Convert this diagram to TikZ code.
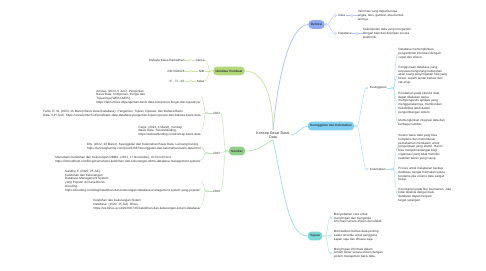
\documentclass[tikz,border=0pt]{standalone}
\usepackage{fontspec}
\setmainfont{Liberation Sans}
\usetikzlibrary{positioning}

\definecolor{ink}{HTML}{333333}
\definecolor{yelFill}{HTML}{B4D77C}
\definecolor{yelLine}{HTML}{CBE3A3}
\definecolor{grnFill}{HTML}{91D08B}
\definecolor{grnLine}{HTML}{B8E2B3}
\definecolor{perFill}{HTML}{8FABF5}
\definecolor{perLine}{HTML}{B2C4F8}
\definecolor{skyFill}{HTML}{7FCEF4}
\definecolor{skyLine}{HTML}{A8DCF7}
\definecolor{tealFill}{HTML}{7CD7D7}
\definecolor{tealLine}{HTML}{A2E3E3}

\begin{document}
\begin{tikzpicture}[
  x=0.05cm, y=-0.05cm,
  every node/.style={text=ink, font=\fontsize{4.4}{5.4}\selectfont},
  root/.style={align=center, inner sep=2pt, font=\fontsize{5.2}{6.2}\selectfont},
  topic/.style={
    fill=#1, rounded corners=0.2cm,
    minimum height=0.44cm, inner xsep=3.5pt, inner ysep=1pt,
    font=\fontsize{4.4}{5.4}\selectfont\bfseries
  },
  sub/.style={inner sep=0.5pt},
  leafR/.style={align=left, anchor=west, inner sep=0.5pt},
  leafL/.style={align=left, anchor=east, inner sep=0.5pt},
  tog/.style={circle, draw=#1, fill=white, line width=0.4pt,
    inner sep=0pt, minimum size=3.2pt},
  main/.style={draw=#1, line width=1.1pt},
  br/.style={draw=#1, line width=0.6pt},
  toR/.style={to path={.. controls +(3,0) and +(-3,0) .. (\tikztotarget) \tikztonodes}},
  toL/.style={to path={.. controls +(-3,0) and +(3,0) .. (\tikztotarget) \tikztonodes}},
]
\useasboundingbox (0,0) rectangle (486,270);

% centre
\node[root] (root) at (273,135) {Konsep Dasar Basis\\Data};

% main topics
\node[topic=perFill]  (def) at (316.5,24.5) {Definisi};
\node[topic=skyFill]  (kk)  at (331,126)    {Keunggulan dan Kelemahan};
\node[topic=tealFill] (tuj) at (315,236)    {Tujuan};
\node[topic=yelFill]  (idp) at (229,71)     {Identitas Pembuat};
\node[topic=grnFill]  (smb) at (237,151)    {Sumber};

\node[tog=perLine,  right=0.5pt of def] (tDef) {};
\node[tog=skyLine,  right=0.5pt of kk]  (tKK)  {};
\node[tog=tealLine, right=0.5pt of tuj] (tTuj) {};
\node[tog=yelLine,  left=0.5pt of idp]  (tIdp) {};
\node[tog=grnLine,  left=0.5pt of smb]  (tSmb) {};

\draw[main=perLine]  (root.north) .. controls +(5,-55) and +(-18,0) .. (def.west);
\draw[main=yelLine]  (idp.east) .. controls +(20,0) and +(0,-30) .. (root.north);
\draw[main=grnLine]  (smb.east) .. controls +(15,0) and +(-8,3) .. (root.south);
\draw[main=skyLine]  (root.east) .. controls +(6,0) and +(-6,0) .. (kk.west);
\draw[main=tealLine] (root.south) .. controls +(10,45) and +(-20,0) .. (tuj.west);

% Definisi
\node[tog=perLine] (eData) at (335.5,15.5) {};
\node[sub, anchor=west] (data) at (338,15.5) {Data};
\node[tog=perLine] (tData) at (352,15.5) {};
\node[leafR] (dataTxt) at (357.5,15.5)
  {Informasi yang dapat berupa\\angka, teks, gambar, atau bentuk\\lainnya.};

\node[tog=perLine] (eDb) at (335.5,33.5) {};
\node[sub, anchor=west] (db) at (338,33.5) {Database};
\node[tog=perLine] (tDb) at (357,33.5) {};
\node[leafR] (dbTxt) at (362.5,33.5)
  {Sekumpulan data yang terorganisir\\dengan baik dan disimpan secara\\elektronik.};

\draw[br=perLine] (def) -- (tDef);
\draw[br=perLine] (tDef) to[toR] (eData);
\draw[br=perLine] (tDef) to[toR] (eDb);
\draw[br=perLine] (data) -- (tData) -- (dataTxt);
\draw[br=perLine] (db) -- (tDb) -- (dbTxt);

% Keunggulan dan Kelemahan
\node[tog=skyLine] (eUng) at (367,88) {};
\node[sub, anchor=west] (ung) at (369.5,88) {Keunggulan};
\node[tog=skyLine] (tUng) at (392,88) {};
\node[tog=skyLine] (eLem) at (367,169) {};
\node[sub, anchor=west] (lem) at (369.5,169) {Kelemahan};
\node[tog=skyLine] (tLem) at (392,169) {};

\node[leafR] (u1) at (398,53.5)
  {Database memungkinkan\\pengambilan informasi dengan\\cepat dan efisien.};
\node[leafR] (u2) at (398,75)
  {Penggunaan database yang\\terpusat mengurangi kebutuhan\\akan ruang penyimpanan fisik yang\\besar, seperti lemari berkas dan\\rak arsip.};
\node[leafR] (u3) at (398,103)
  {Perubahan pada struktur data\\dapat dilakukan tanpa\\mempengaruhi aplikasi yang\\menggunakannya, memberikan\\fleksibilitas lebih dalam\\pengembangan sistem.};
\node[leafR] (u4) at (398,123)
  {Memungkinkan integrasi data dari\\berbagai sumber.};
\node[leafR] (l1) at (398,147)
  {Sistem basis data yang bisa\\kompleks dan memerlukan\\pemahaman mendalam untuk\\pengelolaan yang efektif. Hal ini\\bisa menjadi tantangan bagi\\organisasi yang tidak memiliki\\keahlian teknis yang cukup.};
\node[leafR] (l2) at (398,174)
  {Proses untuk melakukan backup\\database sangat memakan waktu,\\terutama jika volume data sangat\\besar.};
\node[leafR] (l3) at (398,195)
  {Kerentanan pada fitur keamanan. Jika\\tidak dikelola dengan baik,\\database dapat menjadi\\target serangan.};

\draw[br=skyLine] (kk) -- (tKK);
\draw[br=skyLine] (tKK) to[toR] (eUng);
\draw[br=skyLine] (tKK) to[toR] (eLem);
\draw[br=skyLine] (ung) -- (tUng);
\draw[br=skyLine] (lem) -- (tLem);
\foreach \n in {u1,u2,u3,u4}
  \draw[br=skyLine] (tUng) to[toR] (\n.west);
\foreach \n in {l1,l2,l3}
  \draw[br=skyLine] (tLem) to[toR] (\n.west);

% Tujuan
\node[tog=tealLine] (eJ1) at (331,218) {};
\node[tog=tealLine] (eJ2) at (331,235.5) {};
\node[tog=tealLine] (eJ3) at (331,253) {};
\node[leafR] (j1) at (333.5,218)
  {Menyediakan cara untuk\\menyimpan dan mengelola\\informasi secara efisien dan efektif.};
\node[leafR] (j2) at (333.5,235.5)
  {Memastikan bahwa data penting\\selalu tersedia untuk pengguna\\kapan saja dan dimana saja.};
\node[leafR] (j3) at (333.5,253)
  {Menyimpan informasi dalam\\jumlah besar secara efisien dengan\\sistem manajemen basis data.};

\draw[br=tealLine] (tuj) -- (tTuj);
\foreach \n in {eJ1,eJ2,eJ3}
  \draw[br=tealLine] (tTuj) to[toR] (\n);

% Identitas Pembuat
\node[sub, anchor=east] (nama)  at (205,60) {Nama};
\node[sub, anchor=east] (nim)   at (205,71) {NIM};
\node[sub, anchor=east] (kelas) at (205,81) {Kelas};
\node[tog=yelLine] (tNama)  at (190.5,60) {};
\node[tog=yelLine] (tNim)   at (190.5,71) {};
\node[tog=yelLine] (tKelas) at (190.5,81) {};
\node[leafL] (namaTxt)  at (185,60) {Rafaela Kaisa Ramadhan};
\node[leafL] (nimTxt)   at (185,71) {2307002026};
\node[leafL] (kelasTxt) at (185,81) {IF - TI - 2S};

\draw[br=yelLine] (idp) -- (tIdp);
\foreach \n in {nama,nim,kelas}
  \draw[br=yelLine] (tIdp) to[toL] (\n.east);
\draw[br=yelLine] (nama) -- (tNama) -- (namaTxt);
\draw[br=yelLine] (nim) -- (tNim) -- (nimTxt);
\draw[br=yelLine] (kelas) -- (tKelas) -- (kelasTxt);

% Sumber
\node[sub, anchor=east] (y23) at (220.5,113) {2023};
\node[sub, anchor=east] (y22) at (220.5,153) {2022};
\node[sub, anchor=east] (y20) at (220.5,191) {2020};
\node[tog=grnLine] (t23) at (207,113) {};
\node[tog=grnLine] (t22) at (207,153) {};
\node[tog=grnLine] (t20) at (207,191) {};

\node[leafL] (a1) at (201,97)
  {Annisa. (2023, 5 Juni). Pengertian\\Basis Data, Komponen, Fungsi dan\\Tujuannya [WEB LMRS].\\https://fahrunnisa.id/pengertian-basis-data-komponen-fungsi-dan-tujuannya/};
\node[leafL] (a2) at (201,114)
  {Fanis, R. W. (2023, 10 Maret) Basis Data (Database): Pengertian, Tujuan, Operasi, dan Bahasa Basis\\Data. KPI Tech. https://www.kmtech.id/post/basis-data-database-pengertian-tujuan-operasi-dan-bahasa-basis-data};
\node[leafL] (a3) at (201,131)
  {Fatya. (2023, 4 Maret). Konsep\\Basis Data. Sekolahkoding.\\https://sekolahkoding.com/konsep-basis-data};
\node[leafL] (b1) at (201,147)
  {Elly. (2022, 28 Maret). Keunggulan dan Kelemahan Basis Data. Lancang Kuning.\\https://lancangkuning.com/post/32087/keunggulan-dan-kelemahan-basis-data.html};
\node[leafL] (b2) at (201,160)
  {Memahami Kelebihan dan Kekurangan DBMS. (2021, 17 November). ID Cloud Host.\\https://idcloudhost.com/blog/memahami-kelebihan-dan-kekurangan-dbms-database-management-system/};
\node[leafL] (c1) at (201,181)
  {Sandhy, F. (2020, 25 Juli).\\Kelebihan dan Kekurangan\\Database Management System\\yang Populer di Dunia Bisnis.\\Dicoding.\\https://dicoding.com/blog/kelebihan-dan-kekurangan-database-management-system-yang-populer/};
\node[leafL] (c2) at (201,204.5)
  {Kelebihan dan Kekurangan Sistem\\Database. (2020, 15 Juli). Binus.\\https://sis.binus.ac.id/2020/07/15/kelebihan-dan-kekurangan-sistem-database/};

\draw[br=grnLine] (smb) -- (tSmb);
\foreach \n in {y23,y22,y20}
  \draw[br=grnLine] (tSmb) to[toL] (\n.east);
\draw[br=grnLine] (y23) -- (t23);
\draw[br=grnLine] (y22) -- (t22);
\draw[br=grnLine] (y20) -- (t20);
\foreach \n in {a1,a2,a3}
  \draw[br=grnLine] (t23) to[toL] (\n.east);
\foreach \n in {b1,b2}
  \draw[br=grnLine] (t22) to[toL] (\n.east);
\foreach \n in {c1,c2}
  \draw[br=grnLine] (t20) to[toL] (\n.east);

\end{tikzpicture}
\end{document}
